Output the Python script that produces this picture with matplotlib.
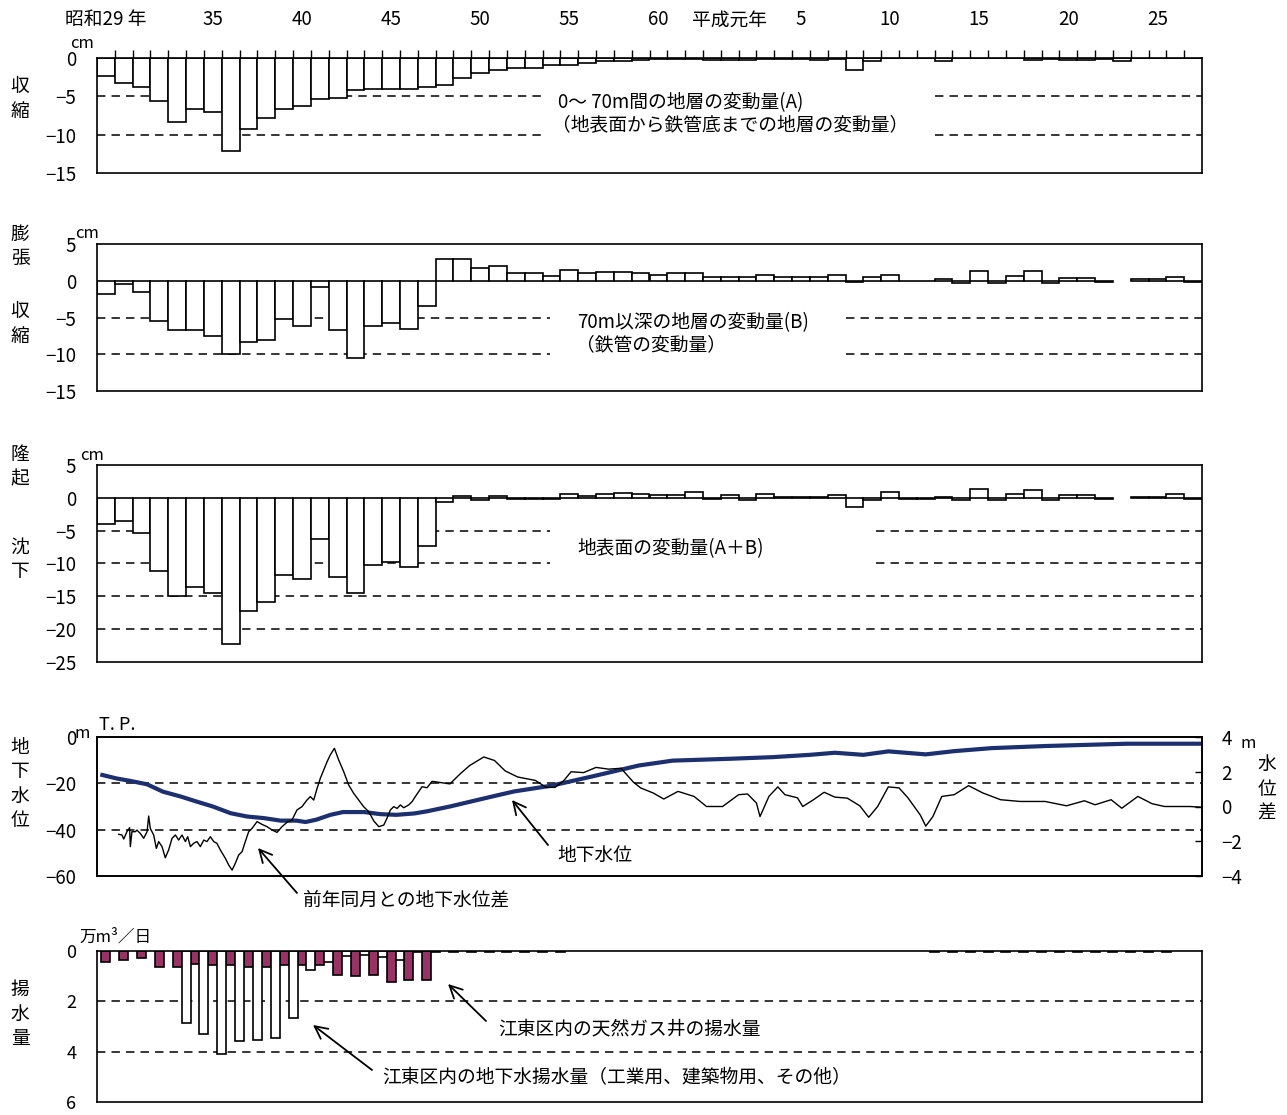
import matplotlib
matplotlib.use("Agg")
import matplotlib.pyplot as plt
import numpy as np

plt.rcParams['font.family'] = ['Noto Sans CJK JP', 'DejaVu Sans']

W, H = 1287, 1115

years = np.arange(1954, 2016)

# 0~70m layer change (A), cm
layer_a = [-2.3, -3.3, -3.8, -5.65, -8.3, -6.7, -7.1, -12.1, -9.2, -7.8,
           -6.6, -6.2, -5.4, -5.2, -4.2, -4.0, -4.0, -4.0, -3.8, -3.5,
           -2.6, -2.0, -1.6, -1.3, -1.3, -0.9, -0.9, -0.65, -0.45, -0.45,
           -0.3, -0.1, -0.1, -0.1, -0.3, -0.3, -0.3, -0.1, -0.1, -0.1,
           -0.3, -0.1, -1.6, -0.35, -0.05, -0.05, -0.05, -0.35, -0.05, -0.05,
           -0.05, -0.05, -0.25, -0.15, -0.2, -0.2, -0.15, -0.35, 0, 0,
           0, 0]
# deeper than 70m (B), cm
layer_b = [-1.8, -0.45, -1.5, -5.5, -6.7, -6.7, -7.5, -10.0, -8.3, -8.1,
           -5.2, -6.2, -0.8, -6.7, -10.5, -6.2, -5.7, -6.5, -3.5, 2.95,
           2.95, 1.7, 1.95, 1.0, 1.0, 0.7, 1.5, 1.0, 1.2, 1.2,
           1.0, 0.8, 1.1, 1.1, 0.45, 0.45, 0.45, 0.75, 0.5, 0.5,
           0.5, 0.8, -0.15, 0.45, 0.75, -0.1, -0.1, 0.3, -0.25, 1.3,
           -0.25, 0.6, 1.3, -0.25, 0.4, 0.4, -0.15, np.nan, 0.2, 0.2,
           0.5, -0.2]
# ground surface (A+B), cm
surface = [-4.0, -3.6, -5.35, -11.2, -15.0, -13.6, -14.5, -22.2, -17.3, -15.85,
           -11.7, -12.3, -6.2, -12.0, -14.5, -10.3, -9.75, -10.55, -7.3, -0.6,
           0.3, -0.35, 0.3, -0.2, -0.2, -0.2, 0.55, 0.3, 0.55, 0.8,
           0.55, 0.4, 0.4, 0.9, -0.25, 0.5, -0.35, 0.6, 0.15, 0.15,
           0.15, 0.5, -1.4, -0.3, 0.85, -0.2, -0.2, 0.2, -0.3, 1.4,
           -0.3, 0.6, 1.15, -0.3, 0.5, 0.5, -0.2, np.nan, 0.15, 0.15,
           0.6, -0.2]

# groundwater level, m T.P.
level_t = [1954.3, 1955.1, 1955.9, 1956.8, 1957.7, 1958.7, 1959.6, 1960.5, 1961.5, 1962.4,
           1963.35, 1964.3, 1965.2, 1965.7, 1966.3, 1967.1, 1967.8, 1969.0, 1969.9, 1970.8,
           1971.8, 1972.5, 1973.8, 1976.0, 1977.4, 1979.5, 1981.8, 1984.4,
           1986.3, 1989.5, 1991.9, 1994.0, 1995.4, 1997.0, 1998.4, 2000.5, 2002.1, 2004.2,
           2007.2, 2011.8, 2015.9]
level_v = [-16.4, -17.9, -19, -20.4, -23.6, -25.7, -27.9, -30, -32.9, -34.3,
           -35, -36.1, -36.1, -36.7, -35.7, -33.6, -32.4, -32.4, -33.3, -33.6,
           -33, -32.1, -30, -26, -23.5, -21, -17, -12.3,
           -10.2, -9.4, -8.7, -7.7, -6.8, -7.7, -6.2, -7.5, -6.1, -4.8,
           -3.9, -2.9, -2.9]

# difference from same month of previous year, m
diff_t = [1955.22, 1955.40, 1955.50, 1955.68, 1955.83, 1955.87, 1955.96, 1956.15, 1956.24, 1956.43,
          1956.62, 1956.81, 1956.90, 1956.99, 1957.18, 1957.33, 1957.46, 1957.65, 1957.83, 1958.02,
          1958.21, 1958.40, 1958.58, 1958.77, 1958.96, 1959.09, 1959.24, 1959.42, 1959.61, 1959.80,
          1959.99, 1960.17, 1960.36, 1960.55, 1960.73, 1960.92, 1961.20, 1961.39, 1961.58, 1961.76,
          1961.95, 1962.14, 1962.32, 1962.51, 1962.70, 1962.98, 1963.26, 1963.54, 1963.82, 1964.10,
          1964.38, 1964.66, 1964.94, 1965.22, 1965.50, 1965.78, 1965.97, 1966.16, 1966.35, 1966.53,
          1966.72, 1966.91, 1967.09, 1967.32, 1967.56, 1967.84, 1968.12, 1968.40, 1968.68, 1968.96,
          1969.25, 1969.53, 1969.81, 1970.09, 1970.27, 1970.46, 1970.65, 1970.84, 1971.02, 1971.21,
          1971.49, 1971.68, 1971.86, 1972.05, 1972.24, 1972.52, 1972.8, 1973.8, 1974.4, 1974.9,
          1975.7, 1976.3, 1976.9, 1977.6, 1978.6, 1979.2, 1979.7, 1980.2, 1980.6, 1981.3,
          1982.0, 1982.7, 1983.4, 1984.1, 1984.5, 1985.2, 1985.8, 1986.6, 1987.5, 1988.2,
          1989.1, 1990.0, 1990.5, 1991.0, 1991.2, 1991.7, 1992.2, 1992.6, 1993.3, 1993.6,
          1994.2, 1994.8, 1995.4, 1996.1, 1996.8, 1997.3, 1997.8, 1998.4, 1999.0, 1999.5,
          2000.2, 2000.5, 2000.9, 2001.4, 2002.1, 2002.9, 2003.7, 2004.7, 2005.8, 2007.2,
          2008.4, 2009.4, 2010.0, 2010.9, 2011.5, 2012.4, 2013.2, 2013.9, 2015.3, 2016.0]
diff_v = [-1.60, -1.64, -1.87, -1.45, -1.22, -2.31, -1.45, -1.45, -1.36, -1.55,
          -1.83, -1.45, -0.55, -1.26, -1.64, -2.41, -2.02, -2.31, -2.95, -2.50,
          -1.83, -1.64, -1.93, -1.64, -2.02, -1.74, -2.31, -2.12, -2.02, -2.31,
          -1.93, -2.02, -1.74, -2.02, -2.12, -2.50, -2.98, -3.37, -3.66, -3.27,
          -2.79, -2.60, -2.02, -1.45, -1.26, -0.87, -1.03, -1.16, -1.35, -1.49,
          -1.16, -0.91, -0.78, -0.20, -0.01, 0.37, 0.57, 0.37, 1.05, 1.62,
          2.10, 2.58, 2.97, 3.35, 2.68, 2.01, 1.24, 0.76, 0.37, -0.01,
          -0.30, -0.83, -1.16, -1.07, -0.68, -0.20, -0.01, -0.11, 0.09, -0.07,
          0.09, 0.28, 0.57, 0.85, 1.14, 1.08, 1.45, 1.3, 1.9, 2.35,
          2.85, 2.65, 2.05, 1.7, 1.5, 1.1, 1.1, 1.5, 2.0, 1.95,
          2.25, 2.15, 2.2, 1.4, 1.07, 0.78, 0.43, 0.87, 0.58, 0.0,
          0.0, 0.68, 0.72, 0.2, -0.58, 0.58, 1.13, 0.68, 0.5, 0.0,
          0.39, 0.82, 0.54, 0.48, 0.04, -0.62, 0.0, 1.13, 1.07, 0.5,
          -0.5, -1.13, -0.58, 0.58, 0.68, 1.2, 0.78, 0.39, 0.29, 0.29,
          0.04, 0.33, 0.1, 0.39, -0.1, 0.58, 0.16, 0.0, 0.0, -0.04]

# pumping, 10^4 m3/day
gas_years = np.arange(1954, 1973)
gas_vals = [0.45, 0.37, 0.29, 0.64, 0.64, 0.5, 0.57, 0.57, 0.64, 0.64,
            0.57, 0.57, 0.57, 0.95, 1.01, 0.95, 1.24, 1.16, 1.16]
gw_years = list(range(1958, 1980)) + list(range(2000, 2014))
gw_vals = [2.86, 3.3, 4.1, 3.58, 3.52, 3.45, 2.66, 0.75, 0.45, 0.2,
           0.15, 0.25, 0.35, 0.05, 0.05, 0.05, 0.05, 0.05, 0.05, 0.05,
           0.05, 0.05,
           0.05, 0.05, 0.05, 0.05, 0.05, 0.05, 0.05, 0.05, 0.05, 0.05,
           0.05, 0.05, 0.05, 0.05]

top_years = [1954, 1960, 1965, 1970, 1975, 1980, 1985, 1989, 1993, 1998, 2003, 2008, 2013]
top_labels = ["昭和29 年", "35", "40", "45", "50", "55", "60", "平成元年", "5", "10", "15", "20", "25"]


def px_rect(l, t, r, b):
    return [l / W, 1 - b / H, (r - l) / W, (b - t) / H]


def fxy(x, y):
    return (x / W, 1 - y / H)


fig = plt.figure(figsize=(W / 100, H / 100), dpi=100)

FS = 13.5
TFS = 13.5
LW = 1.2
DASH = dict(color='black', lw=1.1, linestyle=(0, (5.5, 4)), zorder=1)


def style(ax, ticks):
    for s in ax.spines.values():
        s.set_linewidth(LW)
    ax.set_xlim(1954, 2016)
    ax.set_xticks([])
    ax.set_yticks(ticks)
    ax.tick_params(axis='y', length=0, pad=15, labelsize=TFS)


def bars(ax, vals):
    ax.bar(years + 0.5, vals, width=1.0, color='white', edgecolor='black',
           linewidth=LW, zorder=2)


# panel 1
ax1 = fig.add_axes(px_rect(97, 58, 1202, 173))
style(ax1, [0, -5, -10, -15])
ax1.set_ylim(-15, 0)
for y in (-5, -10):
    ax1.hlines(y, 1954, 1978.9, **DASH)
    ax1.hlines(y, 2001.0, 2016, **DASH)
bars(ax1, layer_a)
ax1.xaxis.tick_top()
ax1.set_xticks([y + 0.5 for y in top_years])
ax1.set_xticklabels(top_labels)
ax1.set_xticks(np.arange(1955, 2016), minor=True)
ax1.tick_params(axis='x', which='major', length=0, pad=20, labelsize=TFS)
ax1.tick_params(axis='x', which='minor', length=6, width=1.0, direction='out',
                top=True, bottom=False)
fig.text(*fxy(558, 103), "0～ 70m間の地層の変動量(A)", fontsize=FS, va='center')
fig.text(*fxy(552, 125), "（地表面から鉄管底までの地層の変動量）", fontsize=FS, va='center')

# panel 2
ax2 = fig.add_axes(px_rect(97, 244, 1202, 391))
style(ax2, [5, 0, -5, -10, -15])
ax2.set_ylim(-15, 5)
for y in (-5, -10):
    ax2.hlines(y, 1954, 1979.4, **DASH)
    ax2.hlines(y, 1996.0, 2016, **DASH)
bars(ax2, layer_b)
fig.text(*fxy(577, 323), "70m以深の地層の変動量(B)", fontsize=FS, va='center')
fig.text(*fxy(576, 345), "（鉄管の変動量）", fontsize=FS, va='center')

# panel 3
ax3 = fig.add_axes(px_rect(97, 465, 1202, 662))
style(ax3, [5, 0, -5, -10, -15, -20, -25])
ax3.set_ylim(-25, 5)
for y in (-5, -10):
    ax3.hlines(y, 1954, 1979.4, **DASH)
    ax3.hlines(y, 1997.7, 2016, **DASH)
for y in (-15, -20):
    ax3.hlines(y, 1954, 2016, **DASH)
bars(ax3, surface)
fig.text(*fxy(577, 549), "地表面の変動量(A＋B)", fontsize=FS, va='center')

# panel 4
ax4 = fig.add_axes(px_rect(97, 737, 1202, 876))
style(ax4, [0, -20, -40, -60])
ax4.set_ylim(-60, 0)
for y in (-20, -40):
    ax4.hlines(y, 1954, 2016, **DASH)
ax4.plot(level_t, level_v, color='#1c2f6e', lw=3.0, zorder=3)
ax4r = ax4.twinx()
ax4r.set_ylim(-4, 4)
ax4r.set_yticks([4, 2, 0, -2, -4])
ax4r.set_yticklabels(["4", "2", "0", "−2", "−4"])
ax4r.tick_params(axis='y', direction='in', length=5, width=1.0, pad=14, labelsize=TFS)
for s in ax4r.spines.values():
    s.set_linewidth(LW)
ax4r.plot(diff_t, diff_v, color='black', lw=1.0, zorder=4)

# panel 5
ax5 = fig.add_axes(px_rect(97, 951, 1202, 1102))
style(ax5, [0, 2, 4, 6])
ax5.tick_params(axis='y', labelsize=13)
ax5.set_ylim(6, 0)
for y in (2, 4):
    ax5.hlines(y, 1954, 2016, **DASH)
ax5.bar(gas_years + 0.5, gas_vals, width=0.5, color='#993366', edgecolor='black',
        linewidth=LW, zorder=2)
ax5.bar(np.array(gw_years) + 1.0, gw_vals, width=0.5, color='white', edgecolor='black',
        linewidth=LW, zorder=2)

# units
fig.text(*fxy(70, 44), "cm", fontsize=12, va='center')
fig.text(*fxy(75, 234), "cm", fontsize=12, va='center')
fig.text(*fxy(80, 456), "cm", fontsize=12, va='center')
fig.text(*fxy(75, 733), "m", fontsize=12, va='center')
fig.text(*fxy(99, 725), "T. P.", fontsize=13, va='center')
fig.text(*fxy(1240, 744), "m", fontsize=12, va='center')
fig.text(*fxy(79, 937), "万m³／日", fontsize=12, va='center')

# vertical axis labels
def vlabel(x, y, s):
    fig.text(*fxy(x, y), "\n".join(s), fontsize=FS, ha='center', va='center',
             linespacing=1.2)


vlabel(20, 99, "収縮")
vlabel(20, 246, "膨張")
vlabel(20, 324, "収縮")
vlabel(20, 467, "隆起")
vlabel(20, 559, "沈下")
vlabel(20, 784, "地下水位")
vlabel(1267, 789, "水位差")
vlabel(20, 1014, "揚水量")

# annotations with arrows
arrow = dict(arrowstyle='->,head_length=0.9,head_width=0.45', color='black', lw=1.3,
             shrinkA=0, shrinkB=0)


def note(text, tx, ty, hx, hy, ax_, ay_):
    fig.text(*fxy(tx, ty), text, fontsize=FS, va='center')
    fig.add_artist(plt.Annotation("", xy=fxy(hx, hy), xytext=fxy(ax_, ay_),
                                  xycoords='figure fraction',
                                  textcoords='figure fraction', arrowprops=arrow))


note("地下水位", 557, 855, 512, 800, 548, 845)
note("前年同月との地下水位差", 303, 900, 258, 848, 297, 893)
note("江東区内の天然ガス井の揚水量", 498, 1029, 448, 984, 486, 1021)
note("江東区内の地下水揚水量（工業用、建築物用、その他）", 382, 1078, 313, 1025, 372, 1070)

fig.savefig("out.png", dpi=100)
